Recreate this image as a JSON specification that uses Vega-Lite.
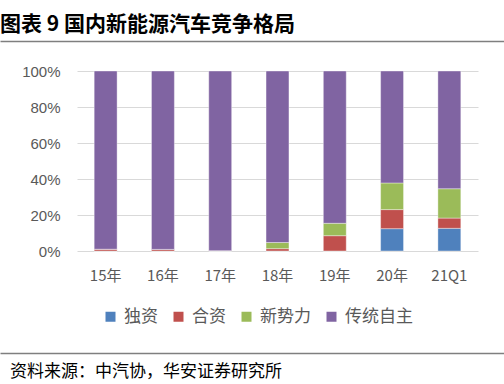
{
  "$schema": "https://vega.github.io/schema/vega-lite/v6.json",
  "padding": {"left": 0, "top": 14, "right": 0, "bottom": 8},
  "background": "white",
  "spacing": 22,
  "config": {
    "font": "Noto Sans CJK SC",
    "view": {"stroke": null}
  },
  "vconcat": [
    {
      "width": 427,
      "height": 1,
      "data": {"values": []},
      "mark": "point",
      "encoding": {
        "x": {
          "field": "v",
          "type": "quantitative",
          "scale": {"domain": [0, 1], "range": [-77, 427]},
          "axis": {
            "orient": "top",
            "title": null,
            "labels": false,
            "ticks": false,
            "grid": false,
            "domain": true,
            "domainColor": "#7f7f7f",
            "domainWidth": 1.5
          }
        }
      },
      "title": {
        "text": "图表 9 国内新能源汽车竞争格局",
        "orient": "top",
        "anchor": "start",
        "baseline": "bottom",
        "offset": -15,
        "dx": -77,
        "fontSize": 21,
        "fontWeight": "bold",
        "font": "Noto Sans CJK SC",
        "color": "#000000"
      }
    },
    {
      "width": 401,
      "height": 180,
      "data": {
        "values": [
          {"period": "15年", "type": "独资", "order": 1, "share": 0},
          {"period": "15年", "type": "合资", "order": 2, "share": 1.0},
          {"period": "15年", "type": "新势力", "order": 3, "share": 0},
          {"period": "15年", "type": "传统自主", "order": 4, "share": 99.0},
          {"period": "16年", "type": "独资", "order": 1, "share": 0},
          {"period": "16年", "type": "合资", "order": 2, "share": 0.9},
          {"period": "16年", "type": "新势力", "order": 3, "share": 0},
          {"period": "16年", "type": "传统自主", "order": 4, "share": 99.1},
          {"period": "17年", "type": "独资", "order": 1, "share": 0},
          {"period": "17年", "type": "合资", "order": 2, "share": 0.2},
          {"period": "17年", "type": "新势力", "order": 3, "share": 0},
          {"period": "17年", "type": "传统自主", "order": 4, "share": 99.8},
          {"period": "18年", "type": "独资", "order": 1, "share": 0},
          {"period": "18年", "type": "合资", "order": 2, "share": 1.3},
          {"period": "18年", "type": "新势力", "order": 3, "share": 3.4},
          {"period": "18年", "type": "传统自主", "order": 4, "share": 95.3},
          {"period": "19年", "type": "独资", "order": 1, "share": 0},
          {"period": "19年", "type": "合资", "order": 2, "share": 8.5},
          {"period": "19年", "type": "新势力", "order": 3, "share": 6.9},
          {"period": "19年", "type": "传统自主", "order": 4, "share": 84.6},
          {"period": "20年", "type": "独资", "order": 1, "share": 12.4},
          {"period": "20年", "type": "合资", "order": 2, "share": 10.6},
          {"period": "20年", "type": "新势力", "order": 3, "share": 14.8},
          {"period": "20年", "type": "传统自主", "order": 4, "share": 62.2},
          {"period": "21Q1", "type": "独资", "order": 1, "share": 12.6},
          {"period": "21Q1", "type": "合资", "order": 2, "share": 5.7},
          {"period": "21Q1", "type": "新势力", "order": 3, "share": 16.3},
          {"period": "21Q1", "type": "传统自主", "order": 4, "share": 65.4}
        ]
      },
      "mark": {"type": "bar", "stroke": "white", "strokeOpacity": 0.5, "strokeWidth": 0.75},
      "encoding": {
        "x": {
          "field": "period",
          "type": "nominal",
          "sort": null,
          "scale": {"paddingInner": 0.6, "paddingOuter": 0.3},
          "axis": {
            "title": null,
            "labelAngle": 0,
            "labelFontSize": 15,
            "labelColor": "#595959",
            "labelFont": "Noto Sans CJK SC",
            "labelPadding": 17,
            "ticks": false,
            "domain": false
          }
        },
        "y": {
          "field": "share",
          "type": "quantitative",
          "stack": "normalize",
          "scale": {"domain": [0, 1]},
          "axis": {
            "title": " ",
            "titleAngle": 0,
            "titleAlign": "left",
            "titleBaseline": "top",
            "titleX": -74,
            "titleY": 250,
            "titleFontSize": 10,
            "format": ".0%",
            "values": [0, 0.2, 0.4, 0.6, 0.8, 1],
            "labelFontSize": 15,
            "labelFont": "Liberation Sans",
            "labelColor": "#595959",
            "labelPadding": 17,
            "ticks": false,
            "domain": false,
            "gridColor": "#D9D9D9",
            "gridWidth": 1
          }
        },
        "color": {
          "field": "type",
          "type": "nominal",
          "sort": ["独资", "合资", "新势力", "传统自主"],
          "scale": {
            "domain": ["独资", "合资", "新势力", "传统自主"],
            "range": ["#4F81BD", "#C0504D", "#9BBB59", "#8064A2"]
          },
          "legend": {
            "title": null,
            "orient": "none",
            "direction": "horizontal",
            "legendX": 25,
            "legendY": 267,
            "padding": 0,
            "symbolType": "square",
            "symbolSize": 100,
            "symbolStrokeWidth": 0,
            "labelFontSize": 17,
            "labelFont": "Noto Sans CJK SC",
            "labelColor": "#595959",
            "labelOffset": 5,
            "columnPadding": 12
          }
        },
        "order": {"field": "order", "type": "quantitative"}
      }
    },
    {
      "width": 427,
      "height": 1,
      "data": {"values": []},
      "mark": "point",
      "encoding": {
        "x": {
          "field": "v",
          "type": "quantitative",
          "scale": {"domain": [0, 1], "range": [-77, 427]},
          "axis": {
            "orient": "top",
            "title": null,
            "labels": false,
            "ticks": false,
            "grid": false,
            "domain": true,
            "domainColor": "#7f7f7f",
            "domainWidth": 1.5
          }
        }
      },
      "title": {
        "text": "资料来源：中汽协，华安证券研究所",
        "orient": "bottom",
        "anchor": "start",
        "baseline": "top",
        "dx": -67,
        "offset": 10,
        "fontSize": 17,
        "fontWeight": "normal",
        "font": "Noto Sans CJK SC",
        "color": "#000000"
      }
    }
  ]
}
